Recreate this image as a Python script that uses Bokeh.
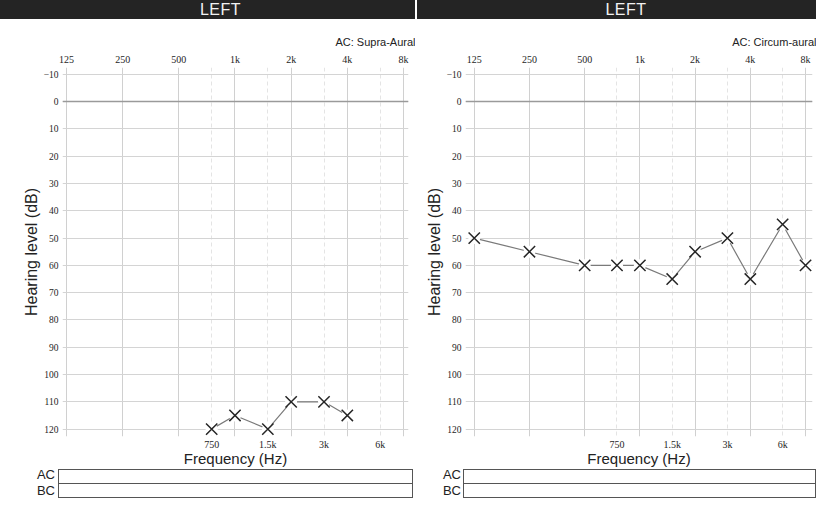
from bokeh.plotting import figure
from bokeh.layouts import row, column
from bokeh.models import Div, FixedTicker, LogAxis, Title, Range1d
from bokeh.embed import file_html
from bokeh.resources import INLINE

# ---------------- data ----------------
ear_label = "LEFT"
top_freqs = [125, 250, 500, 1000, 2000, 4000, 8000]
top_labels = ["125", "250", "500", "1k", "2k", "4k", "8k"]
mid_freqs = [750, 1500, 3000, 6000]
mid_labels = ["750", "1.5k", "3k", "6k"]
hl_ticks = [-10, 0, 10, 20, 30, 40, 50, 60, 70, 80, 90, 100, 110, 120]

left_transducer = "AC: Supra-Aural"
left_freqs = [750, 1000, 1500, 2000, 3000, 4000]
left_hl = [120, 115, 120, 110, 110, 115]

right_transducer = "AC: Circum-aural"
right_freqs = [125, 250, 500, 750, 1000, 1500, 2000, 3000, 4000, 6000, 8000]
right_hl = [50, 55, 60, 60, 60, 65, 55, 50, 65, 45, 60]

row_labels = ["AC", "BC"]

SANS = "Liberation Sans"
SERIF = "Liberation Serif"


def header(width, bar_left, bar_width, pad):
    html = (
        f'<div style="position:relative;width:{width}px;height:19px;">'
        f'<div style="position:absolute;left:{bar_left}px;top:0;width:{bar_width}px;height:19px;'
        f'background:#242424;color:#f2f2f2;font-family:\'{SANS}\';font-size:16px;line-height:19px;'
        f'text-align:center;box-sizing:border-box;padding-left:{pad}px;letter-spacing:0.5px;">{ear_label}</div>'
        f'</div>'
    )
    return Div(text=html, width=width, height=19, margin=(0, 0, 0, 0))


def boxes(width, label_right, box_left, box_right):
    parts = [f'<div style="position:relative;width:{width}px;height:29px;font-family:\'{SANS}\';">']
    label_tops = [-1, 15]
    box_tops = [0, 14]
    box_h = [15, 15]
    for i, lab in enumerate(row_labels):
        parts.append(
            f'<div style="position:absolute;left:0;top:{label_tops[i]}px;width:{label_right}px;height:14px;'
            f'text-align:right;font-size:13px;line-height:14px;color:#222;">{lab}</div>'
        )
        parts.append(
            f'<div style="position:absolute;left:{box_left}px;top:{box_tops[i]}px;width:{box_right - box_left}px;'
            f'height:{box_h[i]}px;border:1px solid #555;box-sizing:border-box;"></div>'
        )
    parts.append('</div>')
    return Div(text="".join(parts), width=width, height=29, margin=(0, 0, 0, 0))


def panel(width, bl, br, xr, transducer, freqs, hl, title_offset):
    p = figure(width=width, height=450, x_axis_type="log", x_axis_location="above",
               x_range=Range1d(*xr), y_range=Range1d(122.7, -12.5),
               output_backend="svg", toolbar_location=None,
               min_border_left=bl, min_border_right=br, min_border_top=48, min_border_bottom=26)
    p.outline_line_color = None
    p.background_fill_color = "white"
    p.border_fill_color = "white"

    p.title = Title(text=transducer, align="right", text_font=SANS, text_font_size="11px",
                    text_font_style="normal", text_color="#222", standoff=5, offset=title_offset)

    # top frequency axis
    xa = p.xaxis[0]
    xa.ticker = FixedTicker(ticks=top_freqs)
    xa.major_label_overrides = {f: l for f, l in zip(top_freqs, top_labels)}
    # bottom inter-octave axis
    bx = LogAxis(ticker=FixedTicker(ticks=mid_freqs),
                 major_label_overrides={f: l for f, l in zip(mid_freqs, mid_labels)},
                 axis_label="Frequency (Hz)")
    p.add_layout(bx, "below")

    for ax in [xa, bx, p.yaxis[0]]:
        ax.axis_line_color = None
        ax.major_tick_line_color = None
        ax.minor_tick_line_color = None
        ax.major_tick_out = 0
        ax.major_tick_in = 0
        ax.minor_tick_out = 0
        ax.minor_tick_in = 0
        ax.major_label_text_font = SERIF
        ax.major_label_text_font_size = "10px"
        ax.major_label_text_color = "#1e1e1e"
        ax.major_label_standoff = 3
        ax.axis_label_text_font = SANS
        ax.axis_label_text_font_size = "15px"
        ax.axis_label_text_font_style = "normal"
        ax.axis_label_text_color = "#222"
    bx.axis_label_standoff = -3
    bx.major_label_standoff = 2

    ya = p.yaxis[0]
    ya.ticker = FixedTicker(ticks=hl_ticks)
    ya.axis_label = "Hearing level (dB)"
    ya.axis_label_text_font_size = "16px"
    ya.major_label_text_font_size = "9.5px"
    ya.axis_label_standoff = 1
    ya.major_label_standoff = 4

    p.xgrid.ticker = FixedTicker(ticks=top_freqs, minor_ticks=mid_freqs)
    p.xgrid.grid_line_color = "#d0d0d0"
    p.xgrid.minor_grid_line_color = "#e4e4e4"
    p.xgrid.minor_grid_line_dash = "4 3"
    p.ygrid.ticker = FixedTicker(ticks=hl_ticks)
    p.ygrid.grid_line_color = "#d4d4d4"

    p.hspan(y=[0], line_color="#9a9a9a", line_width=1.5)

    p.line(freqs, hl, line_color="#7a7a7a", line_width=1.2)
    p.scatter(freqs, hl, marker="circle", size=12, fill_color="white", line_color=None)
    p.scatter(freqs, hl, marker="x", size=16, line_color="#262626", line_width=1.5)
    return p


p1 = panel(415, 62, 7, (119, 8510), left_transducer, left_freqs, left_hl, -7)
p2 = panel(401, 50, 4, (112, 8730), right_transducer, right_freqs, right_hl, -4)

left = column(header(415, 0, 415, 26), p1, boxes(415, 55, 58, 413), spacing=0)
right = column(header(401, 2, 399, 19), p2, boxes(401, 46, 48, 401), spacing=0)
layout = row(left, right, spacing=0)

open("out.html", "w").write(file_html(layout, INLINE))
